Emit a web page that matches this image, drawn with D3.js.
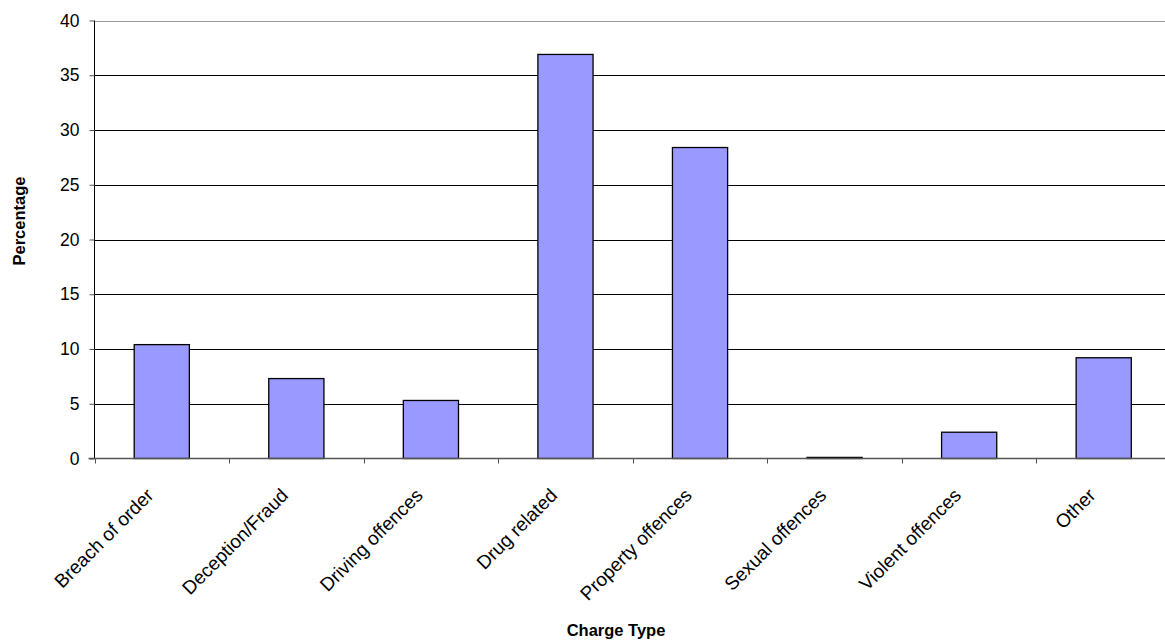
<!DOCTYPE html>
<html>
<head>
<meta charset="utf-8">
<script src="https://cdn.jsdelivr.net/npm/d3@7"></script>
<style>
  html, body { margin: 0; padding: 0; background: #fff; }
  svg { display: block; font-family: "Liberation Sans", Arial, sans-serif; }
</style>
</head>
<body>
<svg id="chart" width="1165" height="642"></svg>
<script>
// Share of charges by type (%)
const categories = ["Breach of order", "Deception/Fraud", "Driving offences", "Drug related",
                    "Property offences", "Sexual offences", "Violent offences", "Other"];
const percentages = [10.4, 7.3, 5.3, 36.9, 28.4, 0.1, 2.4, 9.2];
const yTicks = [0, 5, 10, 15, 20, 25, 30, 35, 40];

const svg = d3.select("#chart");
const plot = { left: 94.5, right: 1171, top: 20.5, bottom: 458.5 };

const x = d3.scaleBand()
  .domain(categories)
  .range([plot.left, plot.right])
  .paddingInner(0.59)
  .paddingOuter(0.295);

const xCat = d3.scaleBand().domain(categories).range([plot.left, plot.right]);

const y = d3.scaleLinear().domain([0, 40]).range([plot.bottom, plot.top]);

// horizontal gridlines
svg.append("g")
  .selectAll("line")
  .data(yTicks.filter(t => t > 0))
  .join("line")
  .attr("x1", plot.left).attr("x2", plot.right)
  .attr("y1", d => Math.round(y(d)) + 0.5).attr("y2", d => Math.round(y(d)) + 0.5)
  .attr("stroke", d => d === 40 ? "#9a9a9a" : "#000")
  .attr("stroke-width", 1);

// bars
svg.append("g")
  .selectAll("rect")
  .data(categories)
  .join("rect")
  .attr("x", d => x(d))
  .attr("width", x.bandwidth())
  .attr("y", (d, i) => y(percentages[i]))
  .attr("height", (d, i) => y(0) - y(percentages[i]))
  .attr("fill", "#9999ff")
  .attr("stroke", "#000")
  .attr("stroke-width", 1.3);

// y axis
const yAxis = d3.axisLeft(y).tickValues(yTicks).tickSize(5).tickPadding(10);
const gy = svg.append("g")
  .attr("transform", `translate(${plot.left},0)`)
  .call(yAxis);
gy.select(".domain").attr("stroke", "#000").attr("d", `M0,${plot.top}V${plot.bottom}`);
gy.selectAll(".tick line").attr("stroke", "#555");
gy.selectAll("text").attr("font-size", 17.5).attr("fill", "#000")
  .attr("font-family", "'Liberation Sans', Arial, sans-serif");

// x axis: ticks sit on category boundaries
const gx = svg.append("g").attr("transform", `translate(0,${plot.bottom})`);
gx.append("line")
  .attr("x1", plot.left - 6).attr("x2", plot.right)
  .attr("stroke", "#555").attr("stroke-width", 1.3);
const boundaries = categories.map(c => xCat(c));
gx.selectAll("line.tick")
  .data(boundaries)
  .join("line")
  .attr("class", "tick")
  .attr("x1", d => Math.round(d) + 0.5).attr("x2", d => Math.round(d) + 0.5)
  .attr("y1", 0).attr("y2", 5)
  .attr("stroke", "#555");

gx.selectAll("text.cat")
  .data(categories)
  .join("text")
  .attr("class", "cat")
  .attr("text-anchor", "end")
  .attr("font-size", 19)
  .attr("transform", d => `translate(${xCat(d) + xCat.bandwidth() / 2 - 7},${38}) rotate(-45)`)
  .text(d => d);

// axis titles
svg.append("text")
  .attr("transform", `translate(25,221) rotate(-90)`)
  .attr("text-anchor", "middle")
  .attr("font-size", 16.5)
  .attr("font-weight", "bold")
  .text("Percentage");

svg.append("text")
  .attr("x", 616)
  .attr("y", 636)
  .attr("text-anchor", "middle")
  .attr("font-size", 16.5)
  .attr("font-weight", "bold")
  .text("Charge Type");
</script>
</body>
</html>
